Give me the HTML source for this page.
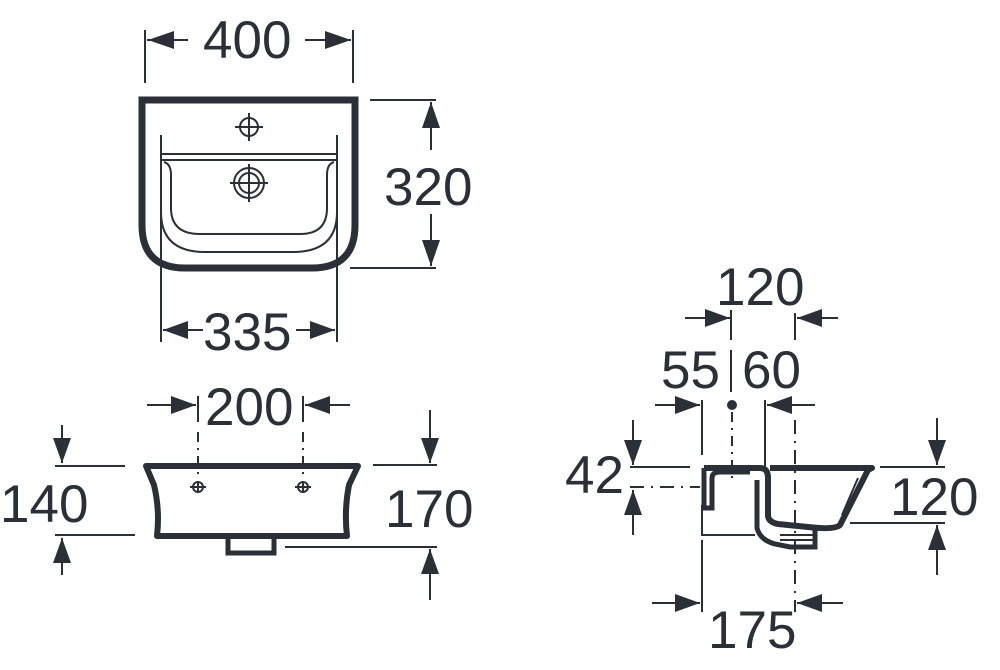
<!DOCTYPE html>
<html><head><style>
html,body{margin:0;padding:0;background:#fff}
svg{display:block}
text{font-family:"Liberation Sans",sans-serif;fill:#2a2f38;font-size:53px}
</style></head><body>
<svg width="1000" height="670" viewBox="0 0 1000 670" xmlns="http://www.w3.org/2000/svg">
<g stroke="#2a2f38" fill="none" stroke-width="2">
<!-- TOP VIEW -->
<line x1="145" y1="30" x2="145" y2="83"/><line x1="353" y1="30" x2="353" y2="83"/>
<path d="M188,40 L147,40 M305,40 L351,40" />
<path d="M148,40 l26,-9 v18z M351,40 l-26,-9 v18z" fill="#2a2f38" stroke="none"/>
<path d="M142,100 H355 V225 Q355,268 312,268 H185 Q142,268 142,225 Z" stroke-width="7"/>
<line x1="161" y1="135" x2="161" y2="342"/><line x1="337" y1="135" x2="337" y2="342"/>
<line x1="161" y1="154" x2="337" y2="154"/><line x1="161" y1="160" x2="337" y2="160"/>
<path d="M164,162 Q171,164 171,175 V208 Q171,234 200,234 H300 Q327,234 327,208 V175 Q327,164 334,162"/>
<path d="M161,212 Q161,252 205,252 H293 Q337,252 337,212"/>
<circle cx="249" cy="127" r="9"/><path d="M235,127 H263 M249,113 V141"/>
<circle cx="249" cy="183" r="15"/><circle cx="249" cy="183" r="10"/><path d="M230,183 H268 M249,164 V202"/>
<path d="M370,100 H436 M350,268 H436"/>
<path d="M431,102 V150 M431,214 V266"/>
<path d="M431,102 l-9,26 h18z M431,266 l-9,-26 h18z" fill="#2a2f38" stroke="none"/>
<path d="M163,330 H203 M296,330 H335"/>
<path d="M163,330 l25,-9 v18z M335,330 l-25,-9 v18z" fill="#2a2f38" stroke="none"/>
<!-- FRONT VIEW -->
<path d="M147,405 H196 M350,405 H305"/>
<path d="M196,405 l-25,-9 v18z M305,405 l25,-9 v18z" fill="#2a2f38" stroke="none"/>
<line x1="198" y1="396" x2="198" y2="422"/><line x1="303" y1="396" x2="303" y2="422"/>
<path d="M198,432 V478 M303,432 V478" stroke-dasharray="10,6,2,6"/>
<path d="M146,466 H358 L349,485 Q344,510 347,536 H157 Q160,510 154,485 Z" stroke-width="6" stroke-linejoin="round"/>
<path d="M228,538 V553 H274 V538" stroke-width="5"/>
<path d="M190,487 h16 M198,481 v12 M295,487 h16 M303,481 v12"/>
<circle cx="198" cy="487" r="5"/><circle cx="303" cy="487" r="5"/>
<path d="M55,466 H125 M55,535 H135"/>
<path d="M62,425 V463 M62,575 V538"/>
<path d="M62,463 l-9,-25 h18z M62,538 l-9,25 h18z" fill="#2a2f38" stroke="none"/>
<path d="M373,465 H437 M285,547 H437"/>
<path d="M430,410 V463 M430,600 V549"/>
<path d="M430,463 l-9,-25 h18z M430,549 l-9,25 h18z" fill="#2a2f38" stroke="none"/>
<!-- SIDE VIEW -->
<path d="M685,318 H730 M838,318 H797"/>
<path d="M730,318 l-25,-9 v18z M797,318 l25,-9 v18z" fill="#2a2f38" stroke="none"/>
<line x1="731" y1="310" x2="731" y2="340"/><line x1="795" y1="313" x2="795" y2="340"/>
<line x1="731" y1="350" x2="731" y2="392"/>
<path d="M655,405 H700 M815,405 H767"/>
<path d="M700,405 l-25,-9 v18z M767,405 l25,-9 v18z" fill="#2a2f38" stroke="none"/>
<circle cx="732" cy="405" r="4" fill="#2a2f38"/>
<line x1="702" y1="400" x2="702" y2="455"/><line x1="702" y1="540" x2="702" y2="612"/>
<line x1="765" y1="400" x2="765" y2="470"/>
<path d="M732,412 V480" stroke-dasharray="10,6,2,6"/>
<path d="M795,420 V612" stroke-dasharray="14,7,2,7"/>
<path d="M630,467 H690 M880,467 H945 M850,523 H945"/>
<path d="M630,487 H700" stroke-dasharray="14,7,2,7"/>
<path d="M633,420 V465 M633,535 V490"/>
<path d="M633,465 l-9,-25 h18z M633,490 l-9,25 h18z" fill="#2a2f38" stroke="none"/>
<path d="M937,418 V465 M937,575 V525"/>
<path d="M937,465 l-9,-25 h18z M937,525 l-9,25 h18z" fill="#2a2f38" stroke="none"/>
<path d="M652,603 H700 M843,603 H797"/>
<path d="M700,603 l-25,-9 v18z M797,603 l25,-9 v18z" fill="#2a2f38" stroke="none"/>
<path d="M704,468 H760 Q768,468 768,478 V515 Q768,522 778,524 L808,527 Q835,530 840,525 L868,470 L872,468 H770" stroke-width="6" stroke-linejoin="round"/>
<path d="M704,468 V508 H712 V478 Q712,472 720,472 H750" stroke-width="5"/>
<path d="M702,505 V535 H755"/>
<path d="M757,480 V528 Q760,540 775,544 L790,547 H815 V530" stroke-width="5"/>
<path d="M780,535 H815 M780,540 H815"/>
<path d="M858,478 L842,515" />
</g>
<g>
<text x="203" y="58">400</text>
<text x="384" y="205">320</text>
<text x="203" y="350">335</text>
<text x="205" y="425">200</text>
<text x="0" y="522">140</text>
<text x="385" y="527">170</text>
<text x="716" y="305">120</text>
<text x="661" y="388">55</text>
<text x="742" y="388">60</text>
<text x="565" y="493">42</text>
<text x="890" y="515">120</text>
<text x="708" y="648">175</text>
</g>
</svg>
</body></html>
